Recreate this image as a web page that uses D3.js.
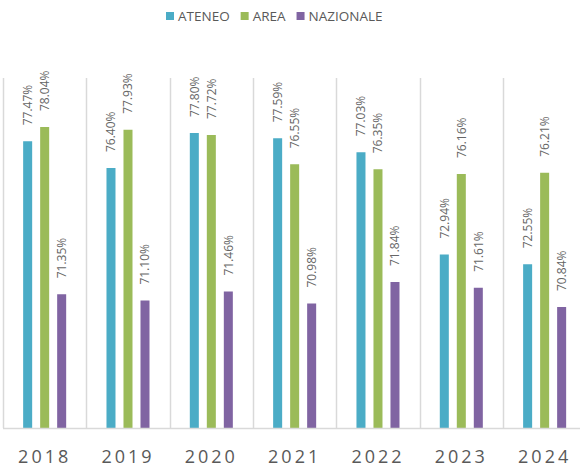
<!DOCTYPE html>
<html>
<head>
<meta charset="utf-8">
<script src="https://cdn.jsdelivr.net/npm/d3@7"></script>
<style>
  html, body { margin: 0; padding: 0; background: #fff; }
  svg { display: block; font-family: "Open Sans", sans-serif; }
</style>
</head>
<body>
<svg id="chart" width="580" height="470"></svg>
<script>
// Yearly percentages for the university, its area and the national figure
const years = ["2018", "2019", "2020", "2021", "2022", "2023", "2024"];
const seriesNames = ["ATENEO", "AREA", "NAZIONALE"];
const ateneo    = [77.47, 76.40, 77.80, 77.59, 77.03, 72.94, 72.55];
const area      = [78.04, 77.93, 77.72, 76.55, 76.35, 76.16, 76.21];
const nazionale = [71.35, 71.10, 71.46, 70.98, 71.84, 71.61, 70.84];
const colors    = ["#4BACC6", "#9BBB59", "#8064A2"];
const yDomain   = [66, 80];

const seriesValues = [ateneo, area, nazionale];
const rows = years.map((y, i) => ({
  year: y,
  values: seriesNames.map((s, k) => ({ key: s, value: seriesValues[k][i], color: colors[k] }))
}));

const svg = d3.select("#chart");
const plot = { left: 3, right: 586.3, top: 78, bottom: 428 };

const x0 = d3.scaleBand().domain(years).range([plot.left, plot.right]).padding(0);
const x1 = d3.scaleBand().domain(seriesNames)
  .range([0, x0.bandwidth()])
  .paddingInner(0.47)
  .paddingOuter(1.185);
const y = d3.scaleLinear().domain(yDomain).range([plot.bottom, plot.top]);

// Category separators
const seps = d3.range(years.length + 1).map(i => plot.left + i * x0.step());
svg.append("g").selectAll("line").data(seps).join("line")
  .attr("x1", d => Math.round(d) + 0.5).attr("x2", d => Math.round(d) + 0.5)
  .attr("y1", plot.top).attr("y2", plot.bottom)
  .attr("stroke", "#d9d9d9").attr("stroke-width", 1.5);

// Bars
const groups = svg.append("g").selectAll("g").data(rows).join("g")
  .attr("transform", d => `translate(${x0(d.year)},0)`);

groups.selectAll("rect").data(d => d.values).join("rect")
  .attr("x", d => x1(d.key))
  .attr("width", x1.bandwidth())
  .attr("y", d => y(d.value))
  .attr("height", d => plot.bottom - y(d.value))
  .attr("fill", d => d.color);

// Value labels, rotated above each bar
groups.selectAll("text").data(d => d.values).join("text")
  .attr("transform", d => `translate(${x1(d.key) + x1.bandwidth() / 2},${y(d.value) - 16}) rotate(-90)`)
  .attr("dy", "0.36em")
  .attr("text-anchor", "start")
  .attr("font-size", "12px")
  .attr("fill", "#666666")
  .text(d => d.value.toFixed(2) + "%");

// Baseline
svg.append("line")
  .attr("x1", plot.left).attr("x2", 580)
  .attr("y1", plot.bottom + 0.5).attr("y2", plot.bottom + 0.5)
  .attr("stroke", "#d9d9d9").attr("stroke-width", 1.5);

// Category axis
const xAxis = svg.append("g")
  .attr("transform", `translate(0,${plot.bottom})`)
  .call(d3.axisBottom(x0).tickSize(0).tickPadding(22));
xAxis.select(".domain").remove();
xAxis.selectAll("text")
  .attr("font-family", "'Open Sans', sans-serif")
  .attr("font-size", "18px")
  .attr("letter-spacing", "3px")
  .attr("fill", "#595959");

// Legend
const legend = svg.append("g").attr("transform", "translate(166,0)");
let lx = 0;
seriesNames.forEach((name, k) => {
  const item = legend.append("g").attr("transform", `translate(${lx},0)`);
  item.append("rect").attr("x", 0).attr("y", 12).attr("width", 8).attr("height", 8).attr("fill", colors[k]);
  const t = item.append("text").attr("x", 12).attr("y", 20.5)
    .attr("font-size", "13.5px").attr("fill", "#595959").text(name);
  lx += 12 + t.node().getComputedTextLength() + 11;
});
</script>
</body>
</html>
